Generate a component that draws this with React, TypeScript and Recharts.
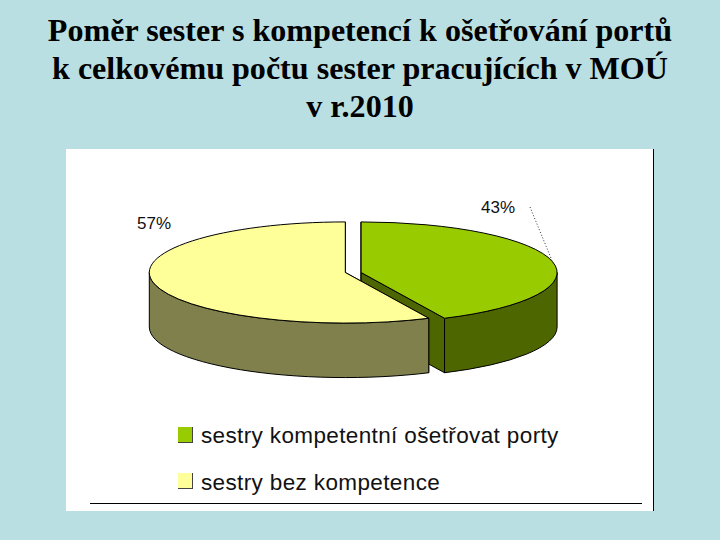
import { PieChart, Pie, Cell, Legend } from 'recharts';

const categories = ['sestry kompetentní ošetřovat porty', 'sestry bez kompetence'];
const shares = [43, 57];
const titleLines = [
  'Poměr sester s kompetencí k ošetřování portů',
  'k celkovému počtu sester pracujících v MOÚ',
  'v r.2010',
];

const TOP_COLORS = ['#99cc00', '#ffff99'];
const WALL_COLORS = ['#4d6600', '#80804d'];
const BACKGROUND = '#b9dfe3';

const chartData = categories.map((name, i) => ({ name, value: shares[i] }));

// the pie is drawn flattened: ry = rx * TILT, with a wall DEPTH px high
const TILT = 0.258;
const DEPTH = 54.5;
const EXPLODE_X = [15.8, 0];
const PERCENT_POS = [
  { x: 498, y: 213 },
  { x: 154, y: 229 },
];

function Slice3D(props: any) {
  const { cx, cy, outerRadius, startAngle, endAngle, index } = props;
  const x0 = cx + EXPLODE_X[index];
  const rx = outerRadius;
  const ry = outerRadius * TILT;
  const pt = (deg: number, drop = 0) => {
    const a = (deg * Math.PI) / 180;
    return `${x0 + rx * Math.cos(a)} ${cy - ry * Math.sin(a) + drop}`;
  };
  const from = Math.min(startAngle, 0);
  const to = Math.max(endAngle, -180);
  const large = startAngle - endAngle > 180 ? 1 : 0;
  const face = (deg: number) =>
    `M${x0} ${cy}L${pt(deg)}L${pt(deg, DEPTH)}L${x0} ${cy + DEPTH}Z`;
  const common = { stroke: '#000', strokeWidth: 1, strokeLinejoin: 'round' as const };

  return (
    <g>
      <path d={face(startAngle)} fill={WALL_COLORS[index]} {...common} />
      <path d={face(endAngle)} fill={WALL_COLORS[index]} {...common} />
      <path
        d={`M${pt(from)}A${rx} ${ry} 0 0 1 ${pt(to)}L${pt(to, DEPTH)}A${rx} ${ry} 0 0 0 ${pt(from, DEPTH)}Z`}
        fill={WALL_COLORS[index]}
        {...common}
      />
      <path
        d={`M${x0} ${cy}L${pt(startAngle)}A${rx} ${ry} 0 ${large} 1 ${pt(endAngle)}Z`}
        fill={TOP_COLORS[index]}
        {...common}
      />
    </g>
  );
}

function PercentLabel(props: any) {
  const { index, value } = props;
  const pos = PERCENT_POS[index];
  return (
    <g>
      <text
        x={pos.x}
        y={pos.y}
        textAnchor="middle"
        fontFamily="Liberation Sans"
        fontSize={17}
        fill="#111"
      >
        {value}%
      </text>
      {index === 0 && (
        <line x1={530} y1={207} x2={553} y2={263} stroke="#333" strokeWidth={1} strokeDasharray="1 2" />
      )}
    </g>
  );
}

function LegendList() {
  return (
    <div style={{ fontFamily: 'Liberation Sans', fontSize: 22.5, color: '#111' }}>
      {categories.map((name, i) => (
        <div key={name} style={{ position: 'relative', height: 46, whiteSpace: 'nowrap' }}>
          <span
            style={{
              position: 'absolute',
              left: 0,
              top: 0,
              width: 14,
              height: 15,
              background: TOP_COLORS[i],
              borderRight: '1px solid #444',
              borderBottom: '1px solid #444',
            }}
          />
          <span style={{ position: 'absolute', left: 23, top: -4 + i, letterSpacing: 0.37 }}>{name}</span>
        </div>
      ))}
    </div>
  );
}

export default function App() {
  return (
    <div style={{ position: 'absolute', left: 0, top: 0, width: 720, height: 540, background: BACKGROUND, overflow: 'hidden' }}>
      <div style={{ position: 'absolute', left: 66, top: 149, width: 587, height: 362, background: '#fff', borderRight: '1px solid #000' }} />
      <div style={{ position: 'absolute', left: 90, top: 503, width: 552, height: 1, background: '#000' }} />
      <div
        style={{
          position: 'absolute',
          left: 0,
          top: 11,
          width: 720,
          textAlign: 'center',
          fontFamily: 'Liberation Serif',
          fontWeight: 'bold',
          fontSize: 32.1,
          lineHeight: '38px',
          color: '#000',
        }}
      >
        {titleLines.map(line => (
          <div key={line} style={{ whiteSpace: 'nowrap' }}>{line}</div>
        ))}
      </div>
      <div style={{ position: 'absolute', left: 0, top: 0 }}>
        <PieChart width={720} height={540} margin={{ top: 0, right: 0, bottom: 0, left: 0 }}>
          <Pie
            data={chartData}
            dataKey="value"
            nameKey="name"
            cx={345.3}
            cy={272.5}
            outerRadius={196}
            startAngle={90}
            endAngle={-270}
            stroke="none"
            shape={Slice3D}
            label={PercentLabel}
            labelLine={false}
            isAnimationActive={false}
          >
            {chartData.map((entry, i) => (
              <Cell key={entry.name} fill={TOP_COLORS[i]} />
            ))}
          </Pie>
          <Legend
            content={LegendList}
            layout="vertical"
            align="center"
            verticalAlign="middle"
            wrapperStyle={{ left: 178, top: 427, width: 400 }}
          />
        </PieChart>
      </div>
    </div>
  );
}
